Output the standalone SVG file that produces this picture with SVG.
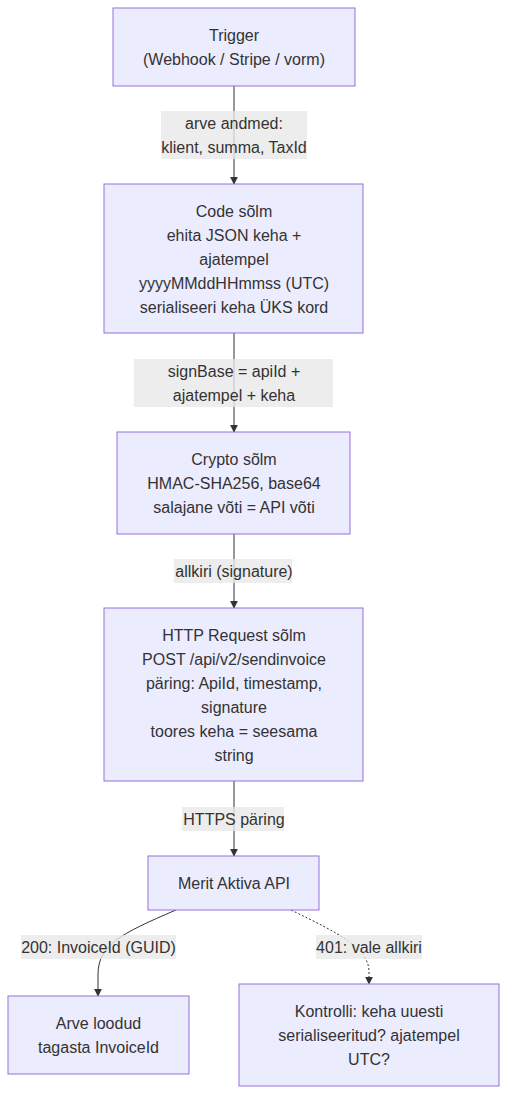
<svg xmlns="http://www.w3.org/2000/svg" width="507" height="1094" viewBox="0 0 507 1094">
<defs>
<style>
.node rect{fill:#ECECFF;stroke:#9370DB;stroke-width:1}
text{font-family:"Liberation Sans",Arial,sans-serif;font-size:16px;fill:#333;text-anchor:middle;dominant-baseline:central}
.edge{fill:none;stroke:#333;stroke-width:1}
.dotted{stroke-dasharray:2 2}
.lbl rect{fill:#e8e8e8;fill-opacity:0.8}
</style>
<marker id="arrow" viewBox="0 0 10 10" refX="9" refY="5" markerWidth="8" markerHeight="8" markerUnits="userSpaceOnUse" orient="auto">
<path d="M0,0 L10,5 L0,10 z" fill="#333"/>
</marker>
</defs>
<rect width="507" height="1094" fill="#fff"/>
<g id="connectors">
<path class="edge" d="M234,86 L234,184" marker-end="url(#arrow)"/>
<path class="edge" d="M234,333 L234,432" marker-end="url(#arrow)"/>
<path class="edge" d="M234,534 L234,608" marker-end="url(#arrow)"/>
<path class="edge" d="M234,781 L234,856" marker-end="url(#arrow)"/>
<path class="edge" d="M176,910 C120,934 98,945 98,975 L98,996" marker-end="url(#arrow)"/>
<path class="edge dotted" d="M291,910 C340,934 369,948 369,972 L369,984" marker-end="url(#arrow)"/>
<g class="lbl">
<rect x="161" y="111" width="146" height="48"/>
<text x="234" y="123">arve andmed:</text>
<text x="234" y="147">klient, summa, TaxId</text>
</g>
<g class="lbl">
<rect x="134" y="359" width="199" height="48"/>
<text x="234" y="371">signBase = apiId +</text>
<text x="234" y="395">ajatempel + keha</text>
</g>
<g class="lbl">
<rect x="174" y="559" width="118" height="24"/>
<text x="234" y="571">allkiri (signature)</text>
</g>
<g class="lbl">
<rect x="182" y="807" width="102" height="24"/>
<text x="234" y="819">HTTPS päring</text>
</g>
<g class="lbl">
<rect x="21" y="935" width="155" height="24"/>
<text x="98.5" y="947">200: InvoiceId (GUID)</text>
</g>
<g class="lbl">
<rect x="316" y="935" width="106" height="24"/>
<text x="369" y="947">401: vale allkiri</text>
</g>
</g>
<g id="trigger" class="node">
<rect x="113" y="8" width="242" height="78"/>
<text x="234" y="35">Trigger</text>
<text x="234" y="59">(Webhook / Stripe / vorm)</text>
</g>
<g id="code" class="node">
<rect x="104" y="184" width="259" height="149"/>
<text x="234" y="211">Code sõlm</text>
<text x="234" y="235">ehita JSON keha +</text>
<text x="234" y="259">ajatempel</text>
<text x="234" y="283">yyyyMMddHHmmss (UTC)</text>
<text x="234" y="307">serialiseeri keha ÜKS kord</text>
</g>
<g id="crypto" class="node">
<rect x="117" y="432" width="233" height="102"/>
<text x="234" y="459">Crypto sõlm</text>
<text x="234" y="483">HMAC-SHA256, base64</text>
<text x="234" y="507">salajane võti = API võti</text>
</g>
<g id="http" class="node">
<rect x="104" y="608" width="259" height="173"/>
<text x="234" y="635">HTTP Request sõlm</text>
<text x="234" y="659">POST /api/v2/sendinvoice</text>
<text x="234" y="683">päring: ApiId, timestamp,</text>
<text x="234" y="707">signature</text>
<text x="234" y="731">toores keha = seesama</text>
<text x="234" y="755">string</text>
</g>
<g id="merit" class="node">
<rect x="148" y="856" width="171" height="54"/>
<text x="234" y="883">Merit Aktiva API</text>
</g>
<g id="ok" class="node">
<rect x="8" y="996" width="181" height="78"/>
<text x="98.5" y="1023">Arve loodud</text>
<text x="98.5" y="1047">tagasta InvoiceId</text>
</g>
<g id="fail" class="node">
<rect x="239" y="984" width="260" height="102"/>
<text x="369" y="1011">Kontrolli: keha uuesti</text>
<text x="369" y="1035">serialiseeritud? ajatempel</text>
<text x="369" y="1059">UTC?</text>
</g>
</svg>
